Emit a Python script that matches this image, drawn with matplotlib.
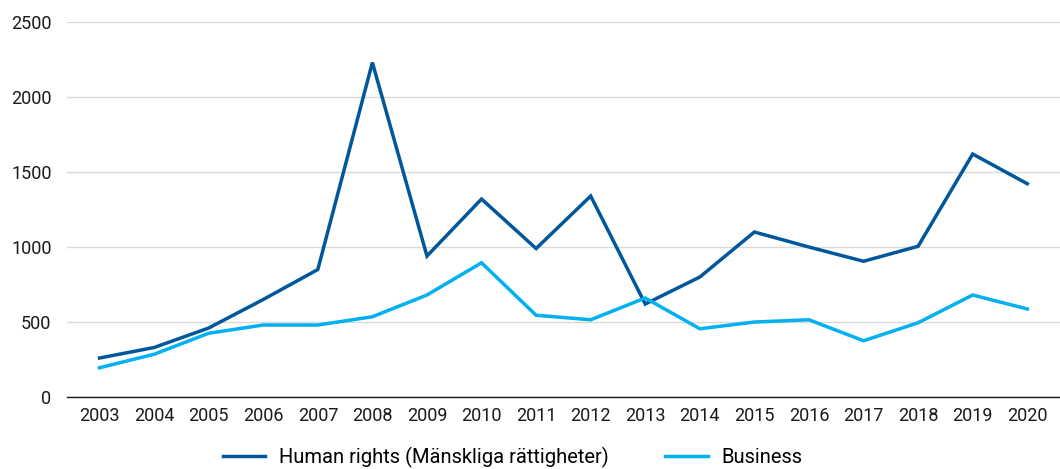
import matplotlib
matplotlib.use("Agg")
import matplotlib.pyplot as plt

plt.rcParams['font.family'] = ['Roboto', 'DejaVu Sans']

years = [str(y) for y in range(2003, 2021)]
human_rights = [260, 330, 460, 650, 850, 2230, 940, 1320, 990, 1340,
                620, 800, 1100, 1000, 905, 1005, 1620, 1422]
business = [195, 285, 425, 480, 480, 535, 680, 895, 545, 515,
            660, 455, 500, 515, 375, 495, 680, 587]

DARK = '#00579c'
LIGHT = '#00b0f0'

fig = plt.figure(figsize=(10.6, 4.69), dpi=100)
ax = fig.add_axes([0.063, 0.1535, 0.937, 0.7995])

x = range(len(years))
ax.plot(x, human_rights, color=DARK, lw=2.5, label='Human rights (Mänskliga rättigheter)',
        solid_joinstyle='miter', zorder=3)
ax.plot(x, business, color=LIGHT, lw=2.5, label='Business',
        solid_joinstyle='miter', zorder=3)

ax.set_xlim(-0.6, len(years) - 0.4)
ax.set_ylim(0, 2500)
ax.set_yticks(range(0, 2501, 500))
ax.set_xticks(list(x))
ax.set_xticklabels(years)
ax.tick_params(axis='both', length=0, labelsize=13, colors='#1a1a1a')
ax.tick_params(axis='y', pad=11)
ax.tick_params(axis='x', pad=7)

ax.grid(axis='y', color='#d9d9d9', lw=1)
ax.set_axisbelow(True)
for s in ['top', 'right', 'left']:
    ax.spines[s].set_visible(False)
ax.spines['bottom'].set_color('#1a1a1a')
ax.spines['bottom'].set_linewidth(1)

ax.legend(loc='upper center', bbox_to_anchor=(0.449, -0.085), ncol=2, frameon=False,
          fontsize=14.5, handlelength=2.1, columnspacing=2.8, handletextpad=0.7)

fig.savefig('out.png', dpi=100)
